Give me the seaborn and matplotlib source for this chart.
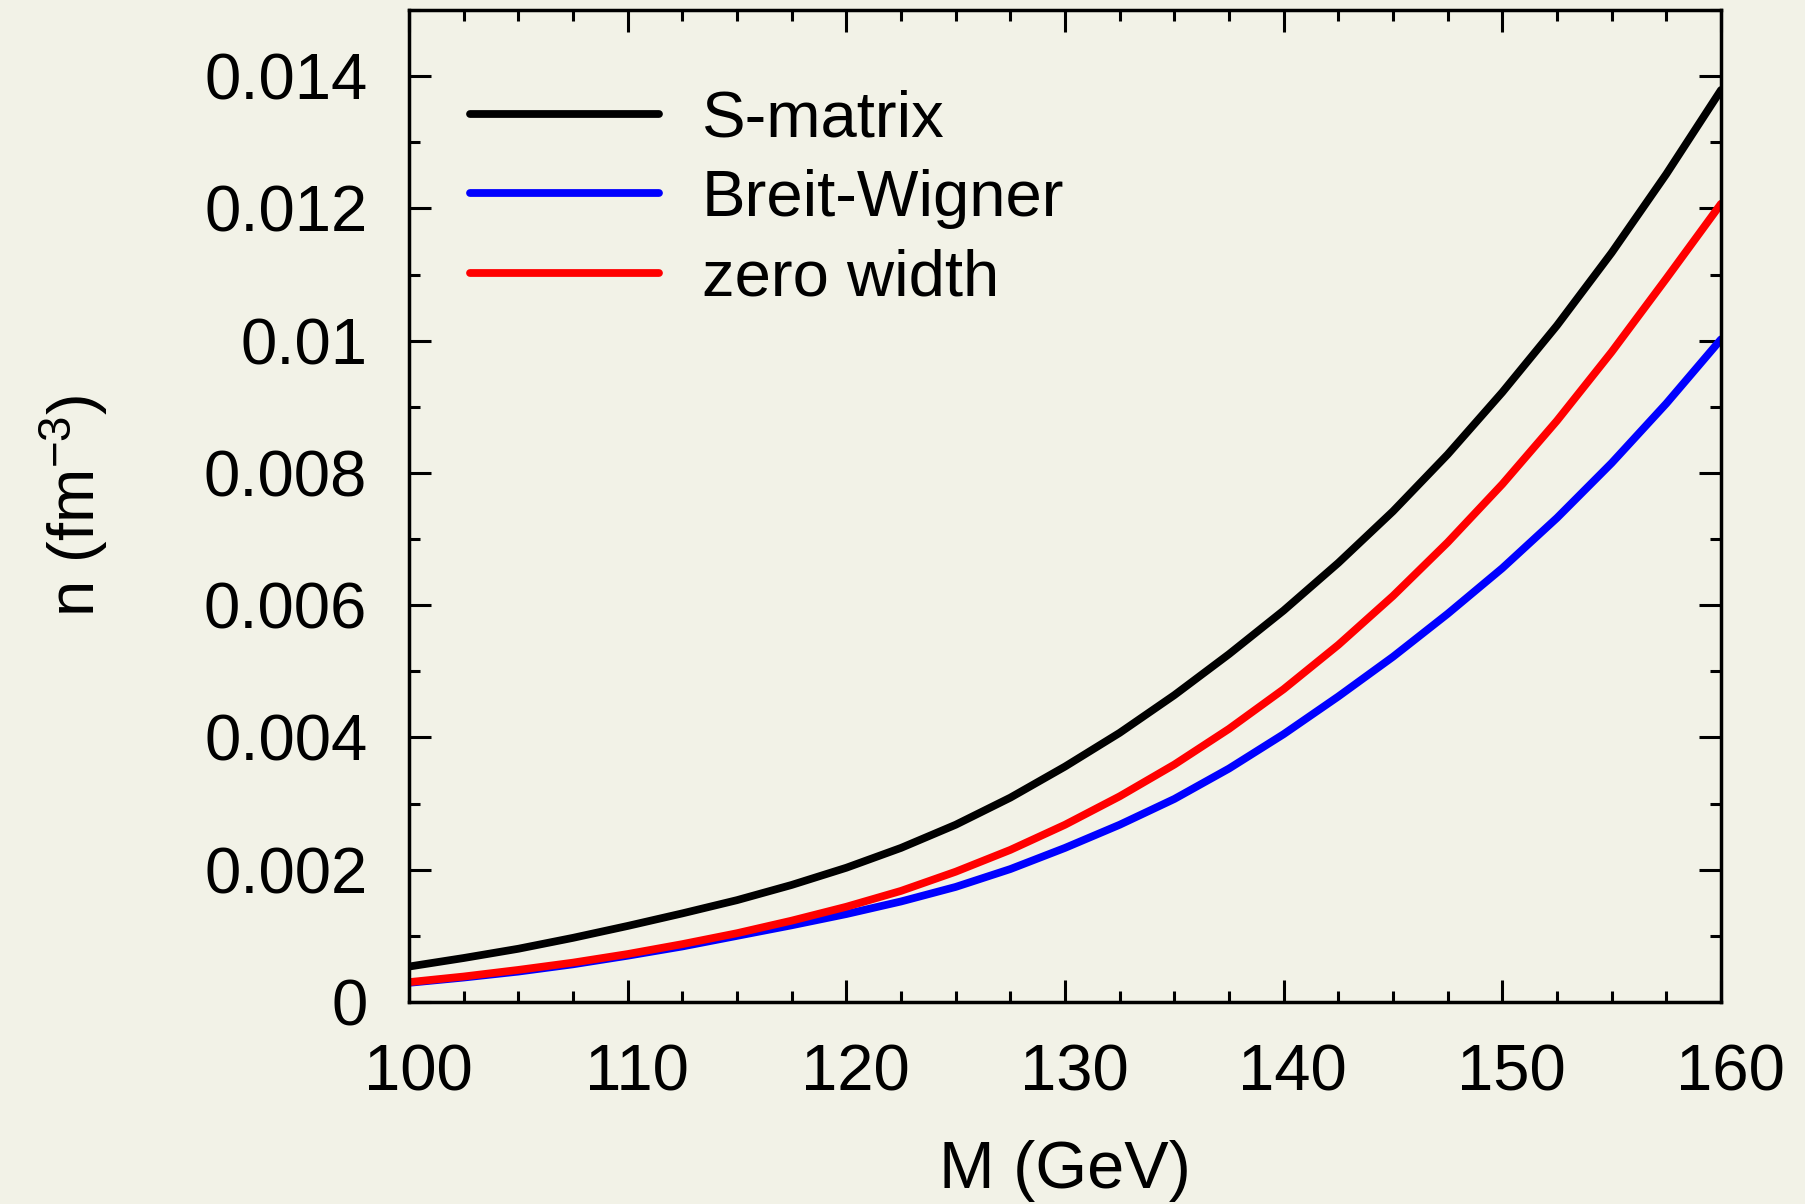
import numpy as np
import pandas as pd
import matplotlib
matplotlib.use("Agg")
import matplotlib.pyplot as plt
import matplotlib.transforms as mtransforms
import seaborn as sns

# ---- data ----
mass = [100, 102.5, 105, 107.5, 110, 112.5, 115, 117.5, 120, 122.5, 125, 127.5,
        130, 132.5, 135, 137.5, 140, 142.5, 145, 147.5, 150, 152.5, 155, 157.5, 160]
smatrix = [0.000536, 0.000665, 0.000805, 0.00097, 0.00115, 0.00134, 0.00154,
           0.00177, 0.00203, 0.00233, 0.00268, 0.00309, 0.00356, 0.00407,
           0.00464, 0.00526, 0.00592, 0.00664, 0.00742, 0.00828, 0.00922,
           0.01023, 0.01133, 0.01252, 0.01379]
breit_wigner = [0.00029, 0.00037, 0.00046, 0.00057, 0.00070, 0.00084, 0.00100,
                0.00116, 0.00133, 0.00152, 0.00174, 0.00201, 0.00233, 0.00268,
                0.00307, 0.00353, 0.00405, 0.00462, 0.00522, 0.00587, 0.00656,
                0.00732, 0.00815, 0.00905, 0.01002]
zero_width = [0.00030, 0.000385, 0.000485, 0.000595, 0.000725, 0.000875, 0.00104,
              0.00123, 0.00144, 0.00168, 0.00197, 0.00230, 0.00268, 0.00311,
              0.00359, 0.00413, 0.00473, 0.00540, 0.00614, 0.00695, 0.00783,
              0.00879, 0.00983, 0.01094, 0.01207]
series_names = ["S-matrix", "Breit-Wigner", "zero width"]
series_colors = ["#000000", "#0000ff", "#ff0000"]
x_ticks = [100, 110, 120, 130, 140, 150, 160]
x_tick_labels = ["100", "110", "120", "130", "140", "150", "160"]
y_ticks = [0, 0.002, 0.004, 0.006, 0.008, 0.010, 0.012, 0.014]
y_tick_labels = ["0", "0.002", "0.004", "0.006", "0.008", "0.01", "0.012", "0.014"]

df = pd.DataFrame({
    "M": mass * 3,
    "n": smatrix + breit_wigner + zero_width,
    "series": [series_names[0]] * len(mass) + [series_names[1]] * len(mass)
              + [series_names[2]] * len(mass),
})

bg = "#f2f2e7"
sns.set_theme(style="ticks")
plt.rcParams["font.family"] = ["Liberation Sans", "DejaVu Sans"]
plt.rcParams["mathtext.fontset"] = "custom"
plt.rcParams["mathtext.rm"] = "Liberation Sans"
plt.rcParams["mathtext.it"] = "Liberation Sans:italic"
plt.rcParams["mathtext.bf"] = "Liberation Sans:bold"
plt.rcParams["figure.facecolor"] = bg
plt.rcParams["axes.facecolor"] = bg
for k in ["text.color", "axes.labelcolor", "xtick.color", "ytick.color",
          "axes.edgecolor"]:
    plt.rcParams[k] = "black"

fig = plt.figure(figsize=(18.05, 12.04), dpi=100)
ax = fig.add_axes([409 / 1805, 1 - 1002 / 1204, 1312 / 1805, 992 / 1204])

LW = 5.6
sns.lineplot(data=df, x="M", y="n", hue="series", palette=series_colors,
             hue_order=series_names, linewidth=LW, ax=ax, sort=True)
for ln in ax.lines:
    ln.set_linewidth(LW)
    ln.set_solid_joinstyle("round")

ax.set_xlim(100, 160)
ax.set_ylim(0, 0.015)
ax.set_xticks(x_ticks)
ax.set_xticklabels(x_tick_labels)
ax.set_yticks(y_ticks)
ax.set_yticklabels(y_tick_labels)
ax.set_xticks(np.arange(100, 160.1, 2.5), minor=True)
ax.set_yticks(np.arange(0, 0.0151, 0.001), minor=True)

for s in ax.spines.values():
    s.set_linewidth(2.5)
    s.set_color("black")

ax.tick_params(which="both", direction="in", top=True, right=True,
               color="black", width=2.2)
ax.tick_params(which="major", length=16, labelsize=47)
ax.tick_params(which="minor", length=8)
ax.tick_params(axis="y", which="major", pad=30)
ax.tick_params(axis="x", which="major", pad=30)

shift = mtransforms.ScaledTranslation(9 / 100, 0, fig.dpi_scale_trans)
for lab in ax.get_xticklabels():
    lab.set_transform(lab.get_transform() + shift)

ax.set_xlabel("M (GeV)", fontsize=48, labelpad=26)
ax.set_ylabel("n (fm$^{-3}$)", fontsize=47)
ax.yaxis.set_label_coords(-0.228, 0.5)

leg = ax.legend(loc="upper left", bbox_to_anchor=(0.0465, 0.920),
                frameon=False, fontsize=47, handlelength=2.9,
                handletextpad=0.65, labelspacing=0.30, borderpad=0,
                borderaxespad=0)
for line in leg.get_lines():
    line.set_linewidth(LW)

fig.savefig("out.png", dpi=100, facecolor=bg)
